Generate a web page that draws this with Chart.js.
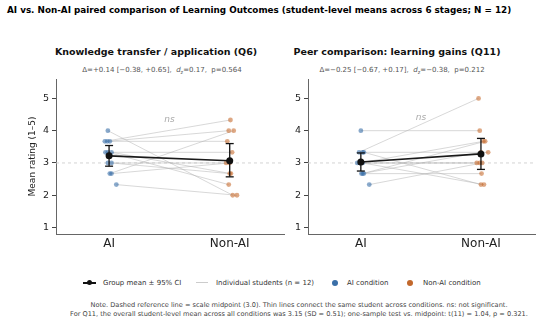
<!DOCTYPE html>
<html><head><meta charset="utf-8">
<script src="https://cdn.jsdelivr.net/npm/chart.js@4.4.1/dist/chart.umd.min.js"></script>
<style>
html,body{margin:0;padding:0;background:#fff;}
body{width:550px;height:324px;position:relative;overflow:hidden;font-family:'DejaVu Sans',sans-serif;}
.abs{position:absolute;white-space:nowrap;}
#suptitle{left:7px;top:4px;font-weight:bold;font-size:8.8px;color:#000;line-height:12px}
.ptitle{font-weight:bold;font-size:9.5px;color:#111;text-align:center;line-height:12px;width:300px}
.psub{font-size:7px;color:#555;text-align:center;line-height:10px;width:300px}
.psub sub{font-size:5px;vertical-align:-1.5px;line-height:0}
canvas{position:absolute}
.leg{font-size:7px;color:#333;line-height:10px;top:277.7px}
.note{font-size:6.6px;color:#444;text-align:center;line-height:9px;left:49px;width:500px}
</style></head>
<body>
<div id="suptitle" class="abs">AI vs. Non-AI paired comparison of Learning Outcomes (student-level means across 6 stages; N = 12)</div>
<div class="abs ptitle" style="left:6px;top:46px">Knowledge transfer / application (Q6)</div>
<div class="abs ptitle" style="left:247px;top:46px">Peer comparison: learning gains (Q11)</div>
<div class="abs psub" style="left:12px;top:65px">Δ=+0.14 [−0.38, +0.65],&nbsp; <i>d</i><sub>z</sub>=0.17,&nbsp; p=0.564</div>
<div class="abs psub" style="left:252px;top:65px">Δ=−0.25 [−0.67, +0.17],&nbsp; <i>d</i><sub>z</sub>=−0.38,&nbsp; p=0.212</div>
<canvas id="c1" width="290" height="190" style="left:0;top:70px"></canvas>
<canvas id="c2" width="260" height="190" style="left:290px;top:70px"></canvas>

<div class="abs" style="left:83px;top:282px;width:13px;height:1.5px;background:#111"></div>
<div class="abs" style="left:87px;top:280px;width:5px;height:5px;border-radius:50%;background:#111"></div>
<div class="abs leg" style="left:103px">Group mean ± 95% CI</div>
<div class="abs" style="left:196px;top:282px;width:12px;height:1px;background:#ccc"></div>
<div class="abs leg" style="left:216px">Individual students (n = 12)</div>
<div class="abs" style="left:332px;top:279.5px;width:6px;height:6px;border-radius:50%;background:#3a6fa8"></div>
<div class="abs leg" style="left:347px">AI condition</div>
<div class="abs" style="left:407px;top:279.5px;width:6px;height:6px;border-radius:50%;background:#c2682c"></div>
<div class="abs leg" style="left:423px">Non-AI condition</div>

<div class="abs note" style="top:300.5px">Note. Dashed reference line = scale midpoint (3.0). Thin lines connect the same student across conditions. ns: not significant.</div>
<div class="abs note" style="top:309.5px">For Q11, the overall student-level mean across all conditions was 3.15 (SD = 0.51); one-sample test vs. midpoint: t(11) = 1.04, p = 0.321.</div>

<script>
const categories = ['AI', 'Non-AI'];
const yTicks = [1, 2, 3, 4, 5];
const midpoint = 3;
const nsLabel = 'ns';

// Q6: Knowledge transfer / application
const q6AI          = [4.00, 3.67, 3.67, 3.67, 3.33, 3.33, 3.33, 3.00, 3.00, 2.67, 2.67, 2.33];
const q6NonAI       = [2.00, 4.33, 4.00, 3.67, 3.33, 2.33, 2.67, 3.00, 2.67, 4.00, 3.00, 2.00];
const q6AIJitter    = [-0.01, -0.035, -0.015, 0.006, -0.03, -0.01, 0.02, -0.01, 0.02, 0.006, 0.02, 0.06];
const q6NonAIJitter = [0.025, 0.006, -0.008, -0.02, 0.02, -0.008, 0.01, -0.03, 0.0, 0.033, 0.0, 0.06];
const q6Mean   = [3.22, 3.07];
const q6CiLow  = [2.90, 2.57];
const q6CiHigh = [3.54, 3.60];
const q6Ns = [0.5, 4.35];

// Q11: Peer comparison: learning gains
const q11AI          = [4.00, 3.33, 3.33, 3.33, 3.00, 3.00, 3.00, 3.00, 2.67, 2.67, 2.67, 2.33];
const q11NonAI       = [4.00, 5.00, 3.33, 2.33, 3.00, 3.00, 2.33, 3.67, 3.67, 2.67, 3.33, 3.00];
const q11AIJitter    = [0.0, -0.015, 0.015, 0.025, -0.03, 0.0, 0.015, -0.01, 0.015, 0.025, 0.005, 0.07];
const q11NonAIJitter = [-0.01, -0.02, 0.06, 0.0, -0.035, -0.01, 0.025, 0.02, 0.035, 0.005, 0.0, 0.01];
const q11Mean   = [3.03, 3.28];
const q11CiLow  = [2.75, 2.80];
const q11CiHigh = [3.31, 3.76];
const q11Ns = [0.5, 4.4];

const X_MIN = -0.44, X_MAX = 1.45, Y_MIN = 0.8, Y_MAX = 5.6;
const AI_COLOR = 'rgba(58,111,168,0.6)';
const NONAI_COLOR = 'rgba(200,110,50,0.6)';

Chart.defaults.font.family = "'DejaVu Sans', sans-serif";

const nsPlugin = {
  id: 'nsText',
  afterDatasetsDraw(chart, args, o) {
    const {ctx, scales: {x, y}} = chart;
    ctx.save();
    ctx.font = 'italic 9px "DejaVu Sans"';
    ctx.fillStyle = '#aaa';
    ctx.textAlign = 'center';
    ctx.textBaseline = 'middle';
    ctx.fillText(nsLabel, x.getPixelForValue(o.pos[0]), y.getPixelForValue(o.pos[1]));
    ctx.restore();
  }
};

function buildChart(id, ai, nonAi, aiJit, nonJit, mean, lo, hi, nsPos, isLeft) {
  const datasets = [];
  datasets.push({data: mean.map((m, i) => ({x: i, y: m})), showLine: true,
    borderColor: '#1a1a1a', borderWidth: 1.6, pointRadius: 3.5,
    pointBackgroundColor: '#111', pointBorderColor: '#111', pointBorderWidth: 0});
  for (let i = 0; i < 2; i++) {
    datasets.push({data: [{x: i, y: lo[i]}, {x: i, y: hi[i]}], showLine: true,
      borderColor: '#111', borderWidth: 1.3, pointStyle: 'line', pointRadius: 4,
      pointBorderColor: '#111', pointBorderWidth: 1.3});
  }
  datasets.push({data: ai.map((v, i) => ({x: 0 + aiJit[i], y: v})),
    pointRadius: 2.4, pointBackgroundColor: AI_COLOR, pointBorderWidth: 0});
  datasets.push({data: nonAi.map((v, i) => ({x: 1 + nonJit[i], y: v})),
    pointRadius: 2.4, pointBackgroundColor: NONAI_COLOR, pointBorderWidth: 0});
  ai.forEach((v, i) => {
    datasets.push({data: [{x: 0 + aiJit[i], y: v}, {x: 1 + nonJit[i], y: nonAi[i]}], showLine: true,
      borderColor: 'rgba(175,175,175,0.55)', borderWidth: 0.9, pointRadius: 0});
  });
  datasets.push({data: [{x: X_MIN, y: midpoint}, {x: X_MAX, y: midpoint}], showLine: true,
    borderColor: '#cfcfcf', borderDash: [3, 3], borderWidth: 0.9, pointRadius: 0});

  return new Chart(document.getElementById(id), {
    type: 'scatter',
    data: {datasets},
    plugins: [nsPlugin],
    options: {
      responsive: false, animation: false, devicePixelRatio: 1, events: [],
      layout: {padding: {top: 9, right: isLeft ? 6 : 15, left: 0, bottom: 0}},
      plugins: {legend: {display: false}, tooltip: {enabled: false}, nsText: {pos: nsPos}},
      scales: {
        x: {
          type: 'linear', min: X_MIN, max: X_MAX,
          afterBuildTicks: s => { s.ticks = categories.map((c, i) => ({value: i})); },
          ticks: {callback: v => categories[v], font: {size: 12}, color: '#222', padding: 3, autoSkip: false, maxRotation: 0},
          grid: {drawOnChartArea: false, drawTicks: false},
          border: {display: true, color: '#666', width: 1},
          afterFit: s => { s.height = 26; }
        },
        y: {
          type: 'linear', min: Y_MIN, max: Y_MAX,
          afterBuildTicks: s => { s.ticks = yTicks.map(v => ({value: v})); },
          ticks: {font: {size: 9.5}, color: '#222', padding: 3},
          grid: {drawOnChartArea: false, drawTicks: true, tickLength: 4, color: '#444'},
          border: {display: true, color: '#666', width: 1},
          title: {display: isLeft, text: 'Mean rating (1–5)', font: {size: 9}, color: '#222', padding: {top: 27.6, bottom: 0}},
          afterFit: s => { s.width = isLeft ? 56 : 18; }
        }
      }
    }
  });
}

buildChart('c1', q6AI, q6NonAI, q6AIJitter, q6NonAIJitter, q6Mean, q6CiLow, q6CiHigh, q6Ns, true);
buildChart('c2', q11AI, q11NonAI, q11AIJitter, q11NonAIJitter, q11Mean, q11CiLow, q11CiHigh, q11Ns, false);
</script>
</body></html>
